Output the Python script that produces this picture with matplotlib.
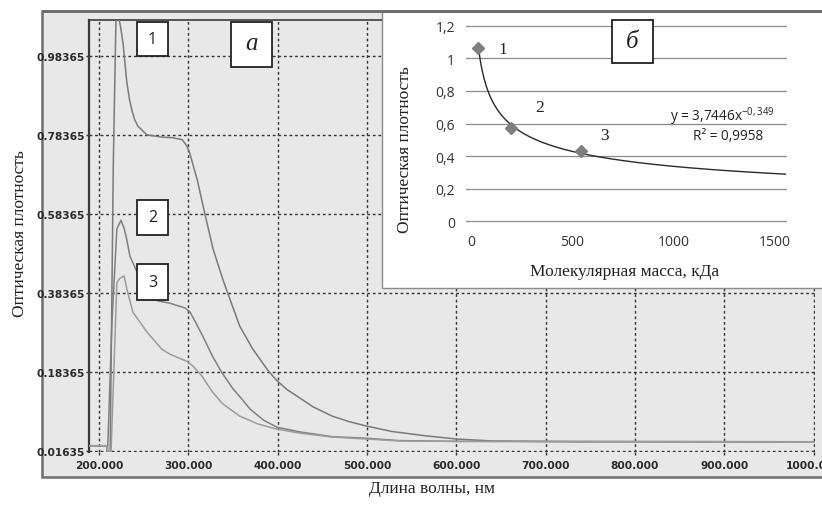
import matplotlib
matplotlib.use("Agg")
import matplotlib.pyplot as plt
from matplotlib.patches import Rectangle
import numpy as np

# ---------------- data: panel a (absorption spectra) ----------------
wl1 = [189, 208.5, 209.5, 212.5, 216, 219, 222, 224, 227, 231, 234, 237, 240, 243.6,
       253.6, 271.5, 281.6, 293, 298, 301, 304, 310, 318, 327.7, 338.5, 344, 357.5,
       372, 389, 399, 410, 424.6, 440, 461, 480, 499, 528, 566, 600, 640, 737, 1000]
od1 = [-0.003, -0.003, -0.018, -0.018, 0.71, 1.08, 1.08, 1.06, 1.014, 0.92, 0.875,
       0.845, 0.822, 0.806, 0.784, 0.778, 0.777, 0.772, 0.757, 0.742, 0.718, 0.67,
       0.589, 0.495, 0.419, 0.384, 0.300, 0.242, 0.188, 0.162, 0.140, 0.118, 0.095,
       0.072, 0.058, 0.047, 0.033, 0.022, 0.014, 0.009, 0.007, 0.007]

wl2 = [189, 208.5, 209.5, 210.5, 214.5, 220, 224.6, 228, 231, 234.6, 242.5, 252, 265,
       279, 296, 301.7, 308, 316, 327, 337, 350, 360, 369, 384, 399, 424.6, 461, 499,
       536, 600, 1000]
od2 = [-0.003, -0.003, -0.018, 0.04, 0.31, 0.546, 0.568, 0.548, 0.52, 0.477, 0.437,
       0.40, 0.364, 0.358, 0.346, 0.336, 0.31, 0.275, 0.224, 0.184, 0.141, 0.115,
       0.09, 0.062, 0.044, 0.032, 0.02, 0.016, 0.01, 0.008, 0.007]

wl3 = [189, 208.5, 209.5, 213.5, 220, 223, 228, 232, 238, 253.6, 270, 279, 298, 305,
       315, 327, 338.5, 357.5, 378, 399, 424.6, 461, 499, 536, 600, 1000]
od3 = [-0.003, -0.003, -0.018, -0.018, 0.41, 0.42, 0.427, 0.386, 0.335, 0.285, 0.242,
       0.229, 0.211, 0.199, 0.174, 0.133, 0.103, 0.072, 0.052, 0.039, 0.029, 0.019,
       0.014, 0.009, 0.008, 0.007]

xticks_a = [200, 300, 400, 500, 600, 700, 800, 900, 1000]
xticklabels_a = ["200.000", "300.000", "400.000", "500.000", "600.000",
                 "700.000", "800.000", "900.000", "1000.000"]
yticks_a = [-0.01635, 0.18365, 0.38365, 0.58365, 0.78365, 0.98365]
yticklabels_a = ["0.01635", "0.18365", "0.38365", "0.58365", "0.78365", "0.98365"]

# ---------------- data: panel b (OD vs molecular mass) ----------------
mass = [35, 197, 542]
od_mass = [1.065, 0.572, 0.431]
point_labels = ["1", "2", "3"]
fit_a = 3.7446
fit_b = -0.349
fit_x_end = 1550
xticks_b = [0, 500, 1000, 1500]
yticks_b = [0, 0.2, 0.4, 0.6, 0.8, 1.0, 1.2]
yticklabels_b = ["0", "0,2", "0,4", "0,6", "0,8", "1", "1,2"]

# ---------------- figure ----------------
W, H = 822, 506
fig = plt.figure(figsize=(W / 100, H / 100), dpi=100)


def fx(px):
    return px / W


def fy(py):
    return 1 - py / H


def frect(x0, y0, x1, y1, **kw):
    r = Rectangle((fx(x0), fy(y1)), fx(x1) - fx(x0), fy(y0) - fy(y1),
                  transform=fig.transFigure, **kw)
    fig.add_artist(r)
    return r


panel_gray = "#e8e8e8"
# outer grey panel
frect(42, 12, 900, 478, facecolor=panel_gray, edgecolor="#6e6e6e", lw=1.8, zorder=-5)

# main axes
ax = fig.add_axes([fx(89), fy(453), fx(815) - fx(89), fy(21) - fy(453)], zorder=0)
ax.set_facecolor(panel_gray)
ax.plot(wl1, od1, color="#7a7a7a", lw=1.1, zorder=3)
ax.plot(wl2, od2, color="#808080", lw=1.1, zorder=3)
ax.plot(wl3, od3, color="#9c9c9c", lw=1.1, zorder=3)
ax.set_xlim(188.8, 1001.5)
ax.set_ylim(-0.0189, 1.0748)
ax.set_xticks(xticks_a)
ax.set_xticklabels(xticklabels_a)
ax.set_yticks(yticks_a)
ax.set_yticklabels(yticklabels_a)
ax.grid(True, color="#333333", linestyle=(0, (2, 2)), lw=1.0, zorder=1)
ax.set_axisbelow(True)
for s in ("right", "bottom"):
    ax.spines[s].set_visible(False)
ax.spines["left"].set_color("#3a3a3a")
ax.spines["left"].set_linewidth(1.6)
ax.spines["top"].set_color("#3a3a3a")
ax.spines["top"].set_linewidth(1.2)
ax.tick_params(axis="both", length=2, width=1, color="#333333", labelcolor="#2a2a2a")
ax.tick_params(axis="x", pad=4)
ax.tick_params(axis="y", pad=1)
for lab in ax.get_xticklabels() + ax.get_yticklabels():
    lab.set_fontfamily("DejaVu Sans")
    lab.set_fontweight("bold")
    lab.set_fontsize(7.7)

fig.text(fx(20), fy(234), "Оптическая плотность", rotation=90, ha="center", va="center",
         family="Liberation Serif", size=12.5, color="#222222")
fig.text(fx(432), fy(489), "Длина волны, нм", ha="center", va="center",
         family="Liberation Serif", size=12.5, color="#222222")

# label boxes on panel a
box_kw = dict(facecolor="white", edgecolor="#222222", lw=1.3, zorder=4)
for (x0, y0, x1, y1, t) in [(137, 23, 168, 57, "1"), (137, 201, 168, 236, "2"),
                            (137, 265, 168, 301, "3")]:
    frect(x0, y0, x1, y1, **box_kw)
    fig.text(fx((x0 + x1) / 2), fy((y0 + y1) / 2), t, ha="center", va="center",
             family="Open Sans", size=11.5, color="#222222", zorder=5)
frect(231, 23, 272, 68, **box_kw)
fig.text(fx(251.5), fy(44), "а", ha="center", va="center", family="Liberation Serif",
         style="italic", size=18, color="#222222", zorder=5)

# inset white panel
frect(382, 12, 900, 289, facecolor="white", edgecolor="#8a8a8a", lw=1.0, zorder=2)
frect(42, 12, 900, 12.01, facecolor="none", edgecolor="#6e6e6e", lw=1.8, zorder=2.5)

axb = fig.add_axes([fx(466), fy(224), fx(787) - fx(466), fy(25) - fy(224)], zorder=3)
axb.set_facecolor("none")
xs = np.linspace(min(mass), fit_x_end, 300)
axb.plot(xs, fit_a * xs ** fit_b, color="#2a2a2a", lw=1.0, zorder=3)
axb.plot(mass, od_mass, linestyle="none", marker="D", ms=6.5, color="#7f7f7f", zorder=4)
axb.set_xlim(-25, 1558)
axb.set_ylim(-0.0123, 1.2123)
axb.set_xticks(xticks_b)
axb.set_yticks(yticks_b)
axb.set_yticklabels(yticklabels_b)
axb.yaxis.grid(True, color="#8c8c8c", lw=0.9)
axb.set_axisbelow(True)
for s in axb.spines.values():
    s.set_visible(False)
axb.tick_params(axis="both", length=0, labelcolor="#333333")
axb.tick_params(axis="x", pad=8)
axb.tick_params(axis="y", pad=8)
for lab in axb.get_xticklabels() + axb.get_yticklabels():
    lab.set_fontfamily("Open Sans")
    lab.set_fontsize(10)

label_pos = [(155, 1.06), (340, 0.70), (660, 0.53)]
for (x, y), t in zip(label_pos, point_labels):
    axb.text(x, y, t, ha="center", va="center", family="Liberation Serif", size=12.5,
             color="#222222")
axb.text(1241, 0.645, "y = 3,7446x$^{\\mathregular{-0,349}}$", ha="center", va="center",
         family="Open Sans", size=9.8, color="#222222")
axb.text(1266, 0.525, "R² = 0,9958", ha="center", va="center",
         family="Open Sans", size=9.8, color="#222222")

fig.text(fx(405), fy(150), "Оптическая плотность", rotation=90, ha="center", va="center",
         family="Liberation Serif", size=12.5, color="#222222", zorder=5)
fig.text(fx(625), fy(272), "Молекулярная масса, кДа", ha="center", va="center",
         family="Liberation Serif", size=12.5, color="#222222", zorder=5)

frect(612, 21, 653, 64, **box_kw)
fig.text(fx(632.5), fy(42), "б", ha="center", va="center", family="Liberation Serif",
         style="italic", size=18, color="#222222", zorder=5)

fig.savefig("out.png", dpi=100)
